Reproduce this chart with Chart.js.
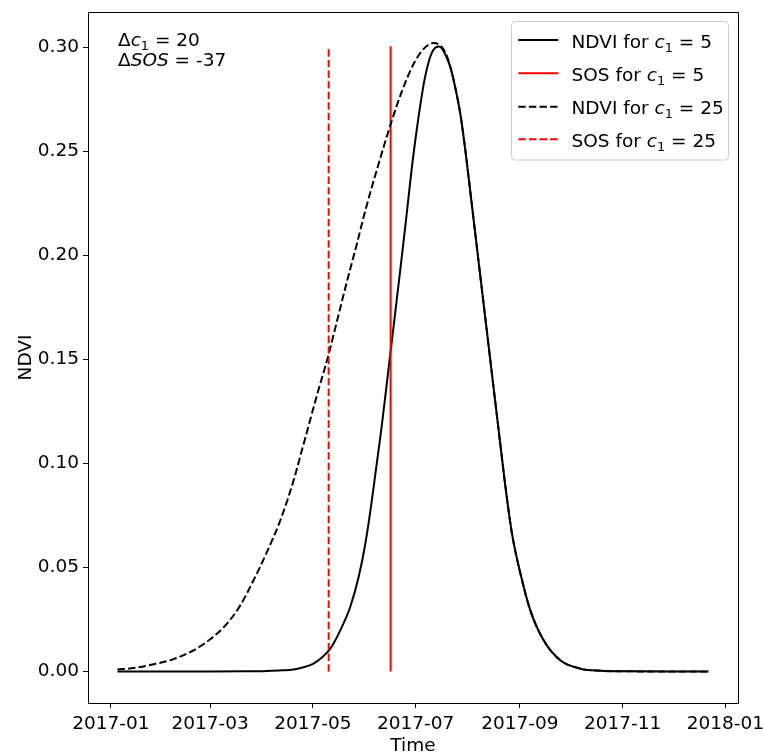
<!DOCTYPE html>
<html><head><meta charset="utf-8">
<script src="https://cdn.jsdelivr.net/npm/chart.js@4/dist/chart.umd.min.js"></script>
<style>html,body{margin:0;padding:0;background:#fff}#wrap{width:763px;height:755px}</style>
</head><body><div id="wrap"><canvas id="c" width="763" height="755"></canvas></div>
<script>
// Days since 2017-01-01
const solidDays = [4, 40, 60, 80, 90, 100, 108.6, 115, 120.4, 125, 130.4, 136.3, 142.2, 147.2, 151.2, 154.5, 157.7, 160.7, 163, 166, 168, 172, 175.5, 178.5, 181.5, 184, 186.5, 189, 191.5, 194.7, 196.5, 199, 201.7, 204.5, 207.6, 210.6, 215.5, 219.5, 223.5, 227.4, 231.8, 234.3, 238.3, 243.3, 249.2, 257.1, 267, 278.9, 290.8, 310, 330, 355];
const solidNdvi = [0, 0, 0, 0.0001, 0.0002, 0.0005, 0.001, 0.0022, 0.0038, 0.0065, 0.011, 0.0198, 0.031, 0.0454, 0.0615, 0.079, 0.0983, 0.1165, 0.132, 0.1525, 0.166, 0.1935, 0.218, 0.240, 0.259, 0.273, 0.285, 0.2935, 0.2985, 0.3003, 0.2995, 0.296, 0.2904, 0.281, 0.268, 0.2504, 0.2171, 0.1899, 0.1627, 0.1362, 0.1063, 0.0895, 0.0663, 0.0471, 0.0294, 0.015, 0.0054, 0.0014, 0.0004, 0.0001, 0, 0];

const dashedDays = [4, 13.5, 25.4, 37.3, 49.1, 59, 69, 76.9, 84.8, 92.7, 100.7, 108.6, 113.5, 122.5, 129.4, 135.3, 140.3, 146.2, 151.2, 159.1, 166, 173, 179.9, 185.8, 191.7, 195.7, 199, 201.7, 204.5, 207.6, 210.6, 215.5, 219.5, 223.5, 227.4, 231.8, 234.3, 238.3, 243.3, 249.2, 257.1, 267, 278.9, 290.8, 310, 330, 355];
const dashedNdvi = [0.001, 0.0017, 0.0035, 0.006, 0.0102, 0.0155, 0.023, 0.0318, 0.0439, 0.0574, 0.0727, 0.0919, 0.1063, 0.1329, 0.1525, 0.1715, 0.1875, 0.2056, 0.2216, 0.244, 0.2624, 0.279, 0.292, 0.2992, 0.302, 0.3008, 0.297, 0.2904, 0.281, 0.268, 0.2504, 0.2171, 0.1899, 0.1627, 0.1362, 0.1063, 0.0895, 0.0663, 0.0471, 0.0294, 0.015, 0.0054, 0.0014, 0.0004, 0.0001, 0, 0];

const sosDays = [166.2, 129.4];      // SOS for c1=5, c1=25
const sosTops = [0.3005, 0.3003];

const xTickDays = [0, 59, 120, 181, 243, 304, 365];
const xTickLabels = ['2017-01', '2017-03', '2017-05', '2017-07', '2017-09', '2017-11', '2018-01'];
const yTickValues = [0, 0.05, 0.10, 0.15, 0.20, 0.25, 0.30];

const FONT = '"DejaVu Sans", sans-serif';
const FS = 18.5;
const DASH = [7.4, 3.2];

Chart.defaults.color = '#000';
Chart.defaults.font.family = FONT;
Chart.defaults.font.size = FS;

const toXY = (xs, ys) => xs.map((x, i) => ({x: x, y: ys[i]}));

function rich(ctx, x, y, parts) {
  let cx = x;
  for (const p of parts) {
    let fs = FS, dy = 0, style = '';
    if (p.s === 'i') style = 'italic ';
    if (p.s === 'sub') { fs = FS * 0.7; dy = FS * 0.22; }
    ctx.font = style + fs + 'px ' + FONT;
    ctx.fillText(p.t, cx, y + dy);
    cx += ctx.measureText(p.t).width;
  }
}

const overlay = {
  id: 'overlay',
  afterDraw(chart) {
    const ctx = chart.ctx, a = chart.chartArea;
    ctx.save();
    // top & right spines
    ctx.strokeStyle = '#000'; ctx.lineWidth = 1;
    ctx.beginPath();
    ctx.moveTo(a.left, a.top + 0.5); ctx.lineTo(a.right + 0.5, a.top + 0.5);
    ctx.lineTo(a.right + 0.5, a.bottom);
    ctx.stroke();

    ctx.fillStyle = '#000';
    ctx.textBaseline = 'alphabetic';
    ctx.textAlign = 'left';
    // annotation
    rich(ctx, 118, 46, [{t: 'Δ'}, {t: 'c', s: 'i'}, {t: '1', s: 'sub'}, {t: ' = 20'}]);
    rich(ctx, 118, 66, [{t: 'Δ'}, {t: 'SOS', s: 'i'}, {t: ' = -37'}]);

    // legend box
    const bx = 511.5, by = 21.5, bw = 217, bh = 138.5, r = 4;
    ctx.beginPath();
    ctx.moveTo(bx + r, by); ctx.lineTo(bx + bw - r, by); ctx.arcTo(bx + bw, by, bx + bw, by + r, r);
    ctx.lineTo(bx + bw, by + bh - r); ctx.arcTo(bx + bw, by + bh, bx + bw - r, by + bh, r);
    ctx.lineTo(bx + r, by + bh); ctx.arcTo(bx, by + bh, bx, by + bh - r, r);
    ctx.lineTo(bx, by + r); ctx.arcTo(bx, by, bx + r, by, r);
    ctx.closePath();
    ctx.fillStyle = 'rgba(255,255,255,0.8)'; ctx.fill();
    ctx.strokeStyle = '#cccccc'; ctx.lineWidth = 1; ctx.stroke();

    const rows = [
      {color: '#000', dash: [], label: 'NDVI for ', val: ' = 5', ly: 40, ty: 47.7},
      {color: '#ff0000', dash: [], label: 'SOS for ', val: ' = 5', ly: 73.3, ty: 81},
      {color: '#000', dash: DASH, label: 'NDVI for ', val: ' = 25', ly: 106.7, ty: 114.3},
      {color: '#ff0000', dash: DASH, label: 'SOS for ', val: ' = 25', ly: 139.3, ty: 146.7}
    ];
    for (const row of rows) {
      ctx.strokeStyle = row.color; ctx.lineWidth = 2; ctx.setLineDash(row.dash);
      ctx.beginPath(); ctx.moveTo(518.3, row.ly); ctx.lineTo(558.3, row.ly); ctx.stroke();
      ctx.setLineDash([]);
      ctx.fillStyle = '#000';
      rich(ctx, 571.5, row.ty, [{t: row.label}, {t: 'c', s: 'i'}, {t: '1', s: 'sub'}, {t: row.val}]);
    }
    ctx.restore();
  }
};

new Chart(document.getElementById('c'), {
  type: 'line',
  data: {
    datasets: [
      {label: 'NDVI for c1 = 5', data: toXY(solidDays, solidNdvi), borderColor: '#000', borderWidth: 2,
       pointRadius: 0, fill: false, cubicInterpolationMode: 'monotone', order: 4},
      {label: 'SOS for c1 = 5', data: [{x: sosDays[0], y: 0}, {x: sosDays[0], y: sosTops[0]}], borderColor: '#ff0000',
       borderWidth: 2, pointRadius: 0, fill: false, tension: 0, order: 3},
      {label: 'NDVI for c1 = 25', data: toXY(dashedDays, dashedNdvi), borderColor: '#000', borderWidth: 2,
       borderDash: DASH, pointRadius: 0, fill: false, cubicInterpolationMode: 'monotone', order: 2},
      {label: 'SOS for c1 = 25', data: [{x: sosDays[1], y: 0}, {x: sosDays[1], y: sosTops[1]}], borderColor: '#ff0000',
       borderWidth: 2, borderDash: DASH, pointRadius: 0, fill: false, tension: 0, order: 1}
    ]
  },
  options: {
    responsive: false, animation: false, devicePixelRatio: 1,
    layout: {padding: {left: 0, top: 12, right: 25, bottom: 0}},
    plugins: {legend: {display: false}, tooltip: {enabled: false}},
    scales: {
      x: {
        type: 'linear', min: -13.55, max: 372.55,
        afterFit(s) { s.height = 52; s.paddingLeft = 0; s.paddingRight = 0; },
        afterBuildTicks(s) { s.ticks = xTickDays.map(v => ({value: v})); },
        ticks: {autoSkip: false, maxRotation: 0, minRotation: 0, padding: 5, color: '#000',
                callback: (v, i) => xTickLabels[i]},
        grid: {display: true, drawOnChartArea: false, drawTicks: true, tickLength: 5, tickColor: '#000', tickWidth: 1},
        border: {display: true, color: '#000', width: 1},
        title: {display: true, text: 'Time', color: '#000', font: {size: FS, lineHeight: 1.0}, padding: {top: 0, bottom: 0}}
      },
      y: {
        type: 'linear', min: -0.0151, max: 0.3169,
        afterFit(s) { s.width = 88; s.paddingTop = 0; s.paddingBottom = 0; },
        afterBuildTicks(s) { s.ticks = yTickValues.map(v => ({value: v})); },
        ticks: {padding: 4, color: '#000', callback: v => Number(v).toFixed(2)},
        grid: {display: true, drawOnChartArea: false, drawTicks: true, tickLength: 5, tickColor: '#000', tickWidth: 1},
        border: {display: true, color: '#000', width: 1},
        title: {display: true, text: 'NDVI', color: '#000', font: {size: FS}, padding: {top: 15, bottom: 0}}
      }
    }
  },
  plugins: [overlay]
});
</script></body></html>
